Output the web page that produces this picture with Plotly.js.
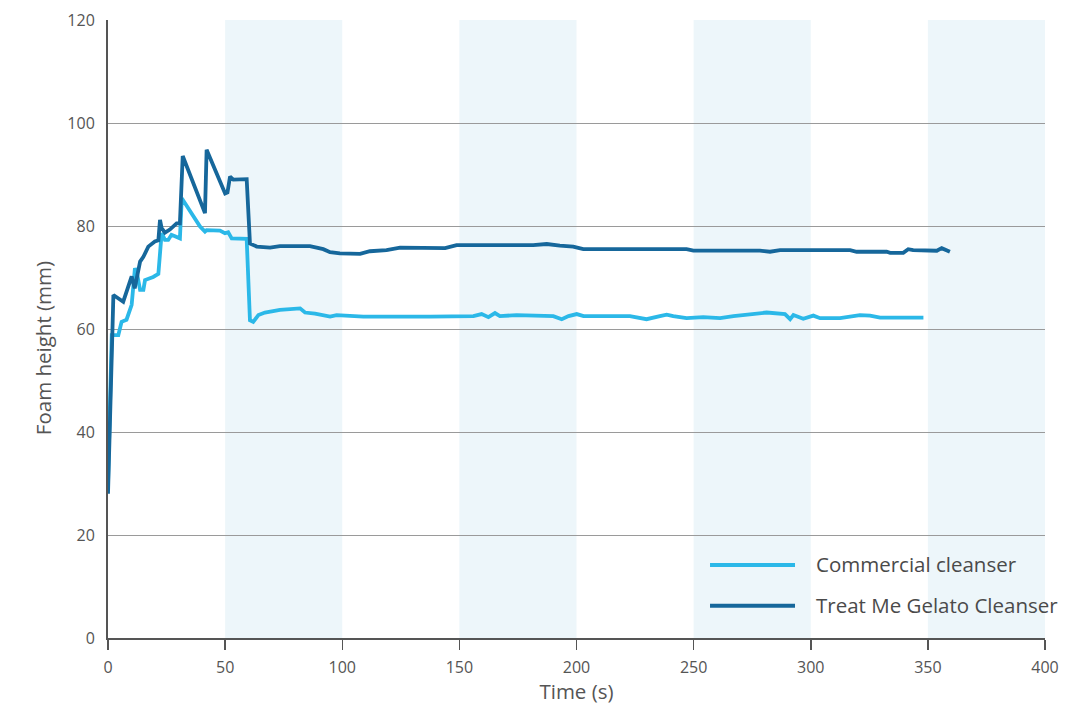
<!DOCTYPE html>
<html>
<head>
<meta charset="utf-8">
<script src="https://cdn.plot.ly/plotly-3.0.1.min.js"></script>
<style>html,body{margin:0;padding:0;background:#fff;}#chart{width:1090px;height:705px;}</style>
</head>
<body>
<div id="chart"></div>
<script>
// Commercial cleanser
const commercialTime = [0,1.6,4.4,5.8,7.9,10.1,11.5,12.5,13.7,15.1,15.8,19.3,21.5,22.9,24.3,25.7,27.1,30.7,31.5,34.3,39.3,41.4,42.1,47.8,49.9,51.3,52.8,59.2,60.6,62,64.2,67,73.4,82,84.1,88.4,94.8,97.6,101.9,109,137.5,156,159.5,162.4,165.2,167.3,174.4,190.1,193.7,196.6,200.1,203,222.8,229.9,235.6,238.5,241.3,247,254.1,261.3,267,278.3,281.2,289,291.2,292.6,296.8,301.1,304,312.5,321,325.3,329.6,348.1];
const commercialHeight = [30,58.8,58.8,61.4,61.8,64.7,71.8,70.5,67.6,67.6,69.5,70.1,70.7,78.6,77.3,77.3,78.3,77.6,85.4,83.4,79.9,78.9,79.2,79.1,78.6,78.8,77.6,77.5,61.7,61.4,62.7,63.2,63.7,64,63.2,63,62.4,62.7,62.6,62.4,62.4,62.5,62.9,62.3,63.1,62.5,62.7,62.5,61.9,62.5,62.9,62.5,62.5,61.9,62.5,62.8,62.5,62.1,62.3,62.1,62.5,63,63.2,62.9,61.9,62.7,62,62.6,62.1,62.1,62.7,62.6,62.2,62.2];

// Treat Me Gelato Cleanser
const gelatoTime = [0,2.3,6.5,10.1,11.4,13.7,15.1,17.2,20,21.5,22.2,22.9,24.3,26.4,29.3,30.7,31.9,41.4,42.1,50,51,52.1,53.5,59.2,60.6,63.5,69.2,73.4,86.2,91.9,94.8,99,107.6,111.8,118.9,124.7,143.9,148.8,181.5,187.3,192.9,198.6,202.9,247,249.9,278.3,282.6,286.9,316.8,319.6,332.4,333.9,339.5,341.6,343.7,353.8,355.9,359.4];
const gelatoHeight = [28,66.6,65.3,70.2,67.9,73.1,74,76,77,77.2,81.2,79.6,78.7,79.3,80.5,80.5,93.6,82.5,94.8,86.3,86.5,89.6,89,89.1,76.6,76,75.8,76.1,76.1,75.5,74.9,74.7,74.6,75.1,75.3,75.8,75.7,76.3,76.3,76.5,76.2,76,75.5,75.5,75.2,75.2,75,75.3,75.3,75,75,74.8,74.8,75.5,75.3,75.2,75.7,75];

const seriesNames = ["Commercial cleanser", "Treat Me Gelato Cleanser"];
const bandStarts = [50, 150, 250, 350];
const bandWidth = 50;
const xTicks = [0,50,100,150,200,250,300,350,400];
const yTicks = [0,20,40,60,80,100,120];
const yTitle = "Foam height (mm)";
const xTitle = "Time (s)";

const lightColor = "#2bb8e8";
const darkColor = "#16679b";
const font = "'Open Sans', Lato, sans-serif";

const traces = [
  {x: commercialTime, y: commercialHeight, mode: "lines", name: seriesNames[0],
   line: {color: lightColor, width: 3.8}, showlegend: false},
  {x: gelatoTime, y: gelatoHeight, mode: "lines", name: seriesNames[1],
   line: {color: darkColor, width: 3.8}, showlegend: false}
];

const shapes = bandStarts.map(s => ({
  type: "rect", xref: "x", yref: "paper", x0: s, x1: s + bandWidth, y0: 0, y1: 1,
  fillcolor: "#edf6fa", line: {width: 0}, layer: "below"
}));
// legend lines
shapes.push({type:"line", xref:"paper", yref:"paper", x0:0.6425, x1:0.7332, y0:0.118, y1:0.118, line:{color:lightColor, width:4}});
shapes.push({type:"line", xref:"paper", yref:"paper", x0:0.6425, x1:0.7332, y0:0.052, y1:0.052, line:{color:darkColor, width:4}});

const annotations = [
  {xref:"paper", yref:"paper", x:0.7535, y:0.120, xanchor:"left", yanchor:"middle", showarrow:false,
   text: seriesNames[0], font:{family:font, size:20.5, color:"#4a4a4a"}},
  {xref:"paper", yref:"paper", x:0.7535, y:0.054, xanchor:"left", yanchor:"middle", showarrow:false,
   text: seriesNames[1], font:{family:font, size:20.5, color:"#4a4a4a"}},
  {xref:"paper", yref:"paper", x:-0.0694, y:0.469, xanchor:"center", yanchor:"middle", showarrow:false,
   textangle:-90, text: yTitle, font:{family:font, size:20.5, color:"#555"}}
];

const layout = {
  width: 1090, height: 705,
  margin: {l: 108, r: 45, t: 20, b: 67},
  paper_bgcolor: "#fff", plot_bgcolor: "rgba(0,0,0,0)",
  font: {family: font, color: "#555"},
  showlegend: false,
  xaxis: {
    range: [0, 400], tickvals: xTicks, ticktext: xTicks.map(String),
    showgrid: false, zeroline: false,
    showline: true, linecolor: "#555", linewidth: 2,
    ticks: "outside", ticklen: 10, tickcolor: "#555", tickwidth: 1.5,
    ticklabelstandoff: 4,
    tickfont: {family: font, size: 16, color: "#555"},
    title: {text: xTitle, font: {family: font, size: 20.5, color: "#555"}, standoff: 0}
  },
  yaxis: {
    range: [0, 120], tickvals: yTicks, ticktext: yTicks.map(String),
    showgrid: true, gridcolor: "#9a9a9a", gridwidth: 1, zeroline: false,
    showline: true, linecolor: "#555", linewidth: 2,
    ticks: "", ticklabelstandoff: 8,
    tickfont: {family: font, size: 16, color: "#555"}
  },
  shapes: shapes,
  annotations: annotations
};

Plotly.newPlot("chart", traces, layout, {displayModeBar: false, staticPlot: true});
</script>
</body>
</html>
